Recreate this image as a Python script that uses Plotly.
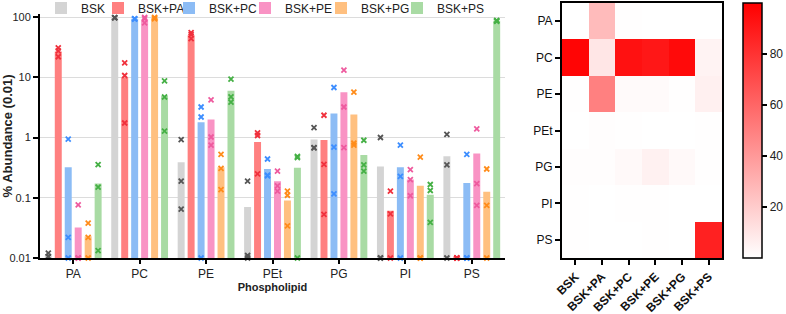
import plotly.graph_objects as go

groups = ["PA", "PC", "PE", "PEt", "PG", "PI", "PS"]
series = ["BSK", "BSK+PA", "BSK+PC", "BSK+PE", "BSK+PG", "BSK+PS"]

# mean abundance (bars), per series, over groups PA..PS
mean_BSK = [0.011, 98, 0.39, 0.07, 0.93, 0.33, 0.49]
mean_PA = [26.7, 9.9, 49.8, 0.84, 0.91, 0.061, 0.0105]
mean_PC = [0.32, 93.5, 1.8, 0.30, 2.5, 0.32, 0.175]
mean_PE = [0.032, 91, 1.99, 0.188, 5.66, 0.20, 0.545]
mean_PG = [0.023, 96, 0.32, 0.09, 2.4, 0.158, 0.126]
mean_PS = [0.172, 4.9, 5.95, 0.315, 0.51, 0.112, 87]

# replicates (x markers), per series, per group
rep_BSK = [[0.012, 0.0105, 0.0105], [98, 98, 97], [0.92, 0.189, 0.0645], [0.189, 0.011, 0.01],
           [1.46, 0.68, 0.67], [1.0, 0.01, 0.01], [1.13, 0.35, 0.01]]
rep_PA = [[30.8, 27.5, 21.9], [17.4, 10.7, 1.74], [54.9, 50.8, 43.6], [1.19, 1.08, 0.25],
          [2.34, 0.358, 0.053], [0.129, 0.054, 0.01], [0.01, 0.01, 0.01]]
rep_PC = [[0.94, 0.022, 0.01], [94, 93, 92], [3.21, 2.19, 0.01], [0.44, 0.238, 0.23],
          [6.76, 0.695, 0.116], [0.75, 0.226, 0.01], [0.525, 0.01, 0.01]]
rep_PE = [[0.076, 0.01, 0.01], [99, 94, 80], [4.2, 1.02, 0.75], [0.277, 0.158, 0.129],
          [13.1, 3.21, 0.68], [0.292, 0.2, 0.108], [1.39, 0.171, 0.075]]
rep_PG = [[0.038, 0.022, 0.01], [99, 96, 93], [0.525, 0.308, 0.136], [0.129, 0.11, 0.034],
          [5.65, 0.81, 0.75], [0.474, 0.01, 0.01], [0.3, 0.075, 0.01]]
rep_PS = [[0.354, 0.15, 0.0133], [8.7, 4.7, 1.28], [9.29, 4.72, 3.85], [0.486, 0.462, 0.01],
          [0.9, 0.35, 0.277], [0.166, 0.132, 0.039], [88, 86, 85]]

y_tickvals = [0.01, 0.1, 1, 10, 100]
y_ticktext = ["0.01", "0.1", "1", "10", "100"]
cbar_ticks = [20, 40, 60, 80]

means = [mean_BSK, mean_PA, mean_PC, mean_PE, mean_PG, mean_PS]
reps = [rep_BSK, rep_PA, rep_PC, rep_PE, rep_PG, rep_PS]

bar_colors = ["#d4d4d4", "#ff8080", "#8cbcf5", "#f993c4", "#ffc080", "#a9dba4"]
mk_colors = ["#555555", "#f0303c", "#3d8eff", "#ee5a9e", "#ff8c1a", "#45b045"]
legend_widths = [12, 26, 31, 31, 31, 45]

FONT = "Liberation Sans, Arial, sans-serif"

fig = go.Figure()
for i, s in enumerate(series):
    fig.add_trace(go.Bar(
        x=groups, y=means[i], name=s, offsetgroup=s, width=0.105,
        legendwidth=legend_widths[i],
        marker=dict(color=bar_colors[i], line=dict(width=0)),
        xaxis="x", yaxis="y",
    ))
for i, s in enumerate(series):
    xs, ys = [], []
    for g, vals in zip(groups, reps[i]):
        for v in vals:
            xs.append(g)
            ys.append(v)
    fig.add_trace(go.Scatter(
        x=xs, y=ys, mode="markers", offsetgroup=s, showlegend=False,
        marker=dict(symbol="x-thin", size=5, color=mk_colors[i],
                    line=dict(width=1.8, color=mk_colors[i])),
        cliponaxis=False, xaxis="x", yaxis="y",
    ))

# heatmap of mean abundance: rows = phospholipid, cols = condition
z = [[means[j][r] for j in range(len(series))] for r in range(len(groups))]
fig.add_trace(go.Heatmap(
    z=z, x=series, y=groups, xaxis="x2", yaxis="y2",
    colorscale=[[0, "#ffffff"], [1, "#ff0000"]], zmin=0, zmax=100,
    showscale=True,
    colorbar=dict(
        x=743 / 786, xanchor="left", xpad=0, ypad=0,
        y=(314 - 130.5) / 314, yanchor="middle",
        len=255, lenmode="pixels", thickness=19,
        outlinewidth=1.5, outlinecolor="black",
        tickvals=cbar_ticks, ticks="outside", ticklen=5, tickwidth=1.5,
        tickcolor="black", tickfont=dict(size=12, color="#222", family=FONT),
    ),
))

fig.update_layout(
    width=786, height=314,
    margin=dict(l=0, r=0, t=0, b=0, autoexpand=False),
    paper_bgcolor="white", plot_bgcolor="white",
    font=dict(family=FONT, size=12, color="#222"),
    barmode="group", bargap=0.1, bargroupgap=0,
    scattermode="group", scattergap=0.1,
    legend=dict(orientation="h", x=41 / 786, xanchor="left",
                y=1 - 8 / 314, yanchor="middle",
                font=dict(size=12, color="#222"), bgcolor="rgba(0,0,0,0)",
                itemwidth=30, tracegroupgap=0, traceorder="normal"),
    xaxis=dict(domain=[40 / 786, 505 / 786], anchor="y", automargin=False,
               showline=True, linecolor="black", linewidth=2,
               ticks="outside", ticklen=4, tickwidth=1.5, tickcolor="black",
               tickfont=dict(size=12), showgrid=False, range=[-0.5, 6.5],
               title=dict(text="<b>Phospholipid</b>", font=dict(size=11), standoff=3)),
    yaxis=dict(domain=[(314 - 258) / 314, (314 - 14) / 314], anchor="x", automargin=False,
               type="log", range=[-2, 2.05],
               tickvals=y_tickvals, ticktext=y_ticktext,
               showline=True, linecolor="black", linewidth=2,
               ticks="outside", ticklen=5, tickwidth=1.5, tickcolor="black",
               tickfont=dict(size=11), showgrid=True, gridcolor="#dcdcdc", gridwidth=1,
               zeroline=False,
               title=dict(text="<b>% Abundance (0.01)</b>", font=dict(size=13), standoff=4)),
    xaxis2=dict(domain=[562 / 786, 722 / 786], anchor="y2", automargin=False,
                showline=True, mirror=True, linecolor="black", linewidth=2,
                ticks="outside", ticklen=5, tickwidth=1.5, tickcolor="black",
                tickangle=-45, tickfont=dict(size=12, color="#111"),
                tickprefix="<b>", ticksuffix="</b>", showgrid=False),
    yaxis2=dict(domain=[(314 - 258) / 314, (314 - 3) / 314], anchor="x2", automargin=False,
                autorange="reversed",
                showline=True, mirror=True, linecolor="black", linewidth=2,
                ticks="outside", ticklen=5, tickwidth=1.5, tickcolor="black",
                tickfont=dict(size=12, color="#111"), showgrid=False),
)

fig.write_html("out.html", post_script="document.body.style.margin='0';")
